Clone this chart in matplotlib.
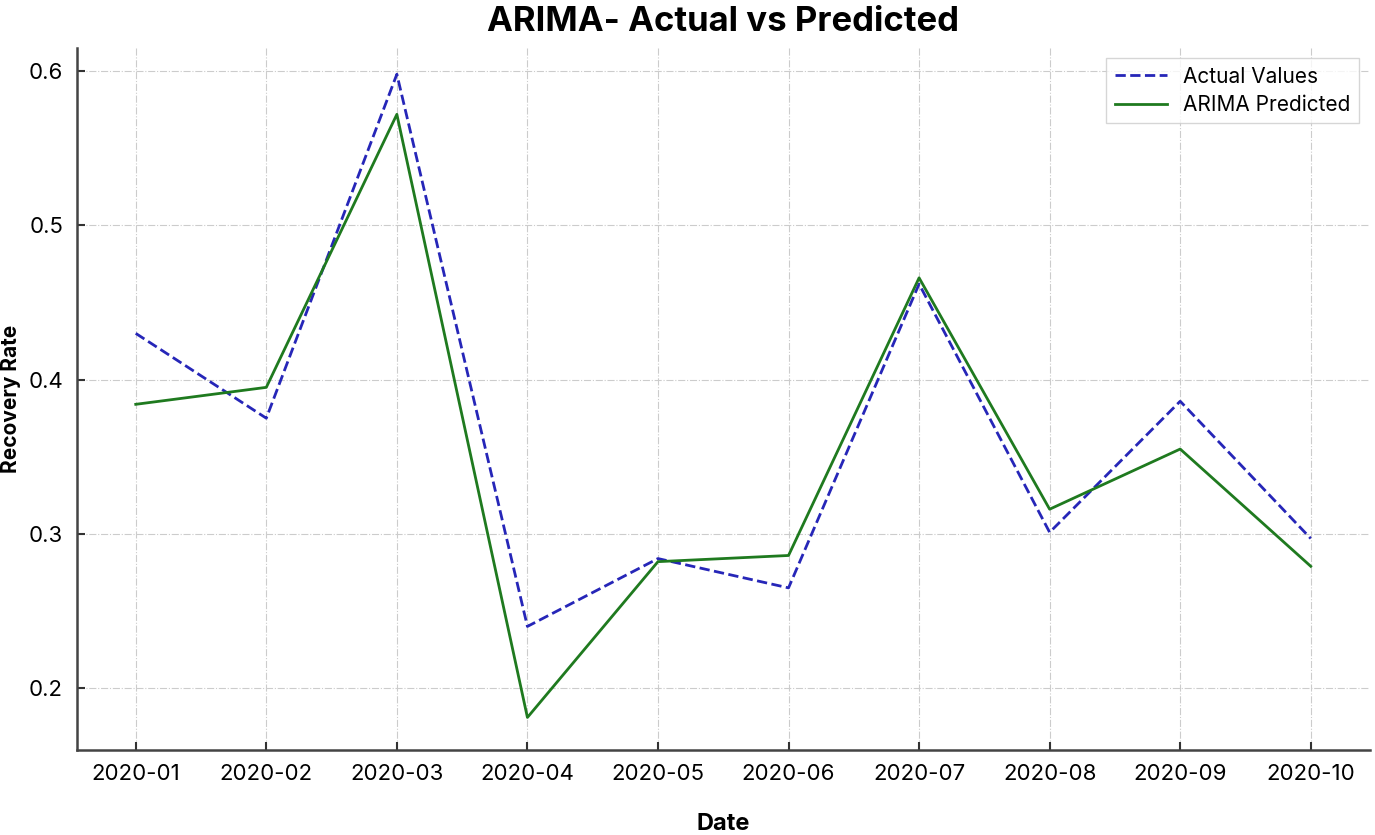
import matplotlib
matplotlib.use('Agg')
import matplotlib.pyplot as plt

dates = ['2020-01', '2020-02', '2020-03', '2020-04', '2020-05',
         '2020-06', '2020-07', '2020-08', '2020-09', '2020-10']
actual = [0.430, 0.375, 0.598, 0.240, 0.284, 0.265, 0.462, 0.301, 0.386, 0.297]
predicted = [0.384, 0.395, 0.572, 0.181, 0.282, 0.286, 0.466, 0.316, 0.355, 0.279]

plt.rcParams['font.family'] = ['Inter', 'DejaVu Sans']

fig = plt.figure(figsize=(13.75, 8.35), dpi=100)
ax = fig.add_axes([0.056, 0.102, 0.94, 0.8405])

x = list(range(len(dates)))
ax.plot(x, actual, linestyle='--', color='#2626b8', linewidth=2, label='Actual Values')
ax.plot(x, predicted, linestyle='-', color='#1f7a1f', linewidth=2, label='ARIMA Predicted')

ax.set_xticks(x)
ax.set_xticklabels(dates)
ax.set_yticks([0.2, 0.3, 0.4, 0.5, 0.6])
ax.set_ylim(0.16, 0.615)
ax.tick_params(direction='in', labelsize=16, length=6, width=1.5, colors='#333333',
               labelcolor='black', pad=10)

ax.grid(True, linestyle='-.', color='#cccccc', linewidth=0.8)
for s in ['top', 'right']:
    ax.spines[s].set_visible(False)
for s in ['left', 'bottom']:
    ax.spines[s].set_color('#444444')
    ax.spines[s].set_linewidth(1.8)

ax.set_title('ARIMA- Actual vs Predicted', fontsize=25, fontweight='bold', pad=12)
ax.set_xlabel('Date', fontsize=17, fontweight='bold', va='center')
ax.set_ylabel('Recovery Rate', fontsize=15, fontweight='bold', va='center')
ax.xaxis.set_label_coords(0.5, -0.106)
ax.yaxis.set_label_coords(-0.051, 0.5)

leg = ax.legend(loc='upper right', fontsize=15, frameon=True, fancybox=False,
                handlelength=2.5, borderpad=0.4, labelspacing=0.4)
leg.get_frame().set_edgecolor('#cccccc')

plt.savefig('out.png', dpi=100)
plt.close()
